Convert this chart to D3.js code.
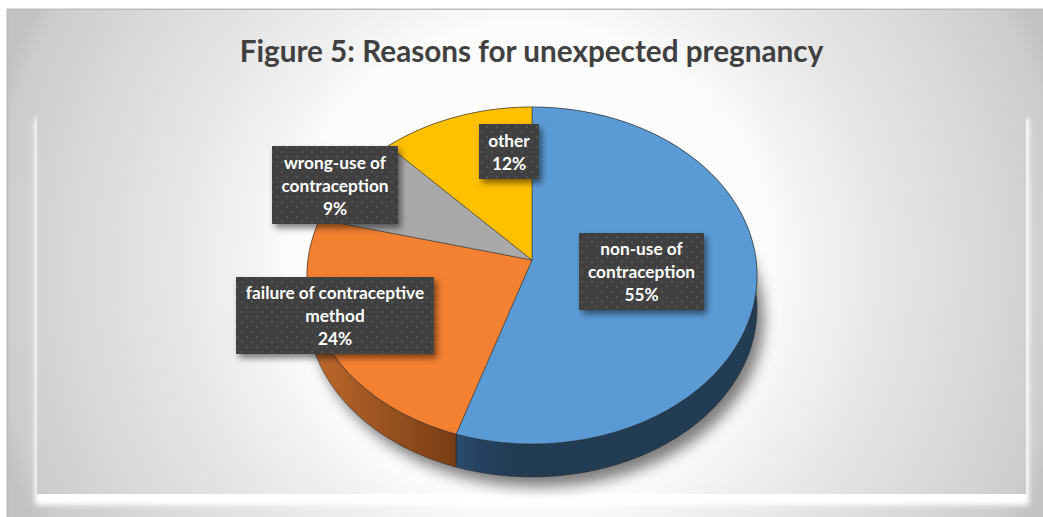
<!DOCTYPE html>
<html><head><meta charset="utf-8">
<script src="https://cdn.jsdelivr.net/npm/d3@7/dist/d3.min.js"></script>
<style>html,body{margin:0;padding:0;background:#fff;overflow:hidden}svg{display:block}</style>
</head><body><svg id="c" width="1043" height="517"></svg>
<script>
const titleText = "Figure 5: Reasons for unexpected pregnancy";
const categories = ["non-use of contraception","failure of contraceptive method","wrong-use of contraception","other"];
const values = [55,24,9,12];
const labelLines = [["non-use of","contraception"],["failure of contraceptive","method"],["wrong-use of","contraception"],["other"]];
const colors = ["#5b9bd5","#ed7d31","#a5a5a5","#ffc000"];
const topColors = ["#5b9bd5","#f48031","#a9a9a9","#ffc000"];
// layout: label boxes [x0,y0,x1,y1]
const boxes = [[579,233,704,310],[236,277,434,354],[272,146,398,224],[479,124,539,179]];

const W=1043,H=517,cx=532,cy=260,rxB=224,a=167,k=0.092,depth=33;
const svg=d3.select("#c");
const defs=svg.append("defs");

const bg=defs.append("radialGradient").attr("id","bg").attr("gradientUnits","userSpaceOnUse")
 .attr("cx",530).attr("cy",265).attr("r",560);
[[0,"#ffffff"],[.43,"#fbfbfb"],[.53,"#f0f0f0"],[.66,"#e4e4e4"],[.77,"#dcdcdc"],[.955,"#cdcdcd"],[1,"#c2c2c2"]].forEach(s=>bg.append("stop").attr("offset",s[0]).attr("stop-color",s[1]));

const f1=defs.append("filter").attr("id","glow").attr("x","-5%").attr("y","-5%").attr("width","110%").attr("height","110%");
f1.append("feGaussianBlur").attr("stdDeviation",2.6);
const f2=defs.append("filter").attr("id","pieShadow").attr("x","-20%").attr("y","-20%").attr("width","140%").attr("height","140%");
f2.append("feGaussianBlur").attr("stdDeviation",7);
const f3=defs.append("filter").attr("id","boxShadow").attr("x","-20%").attr("y","-20%").attr("width","150%").attr("height","150%");
f3.append("feDropShadow").attr("dx",3).attr("dy",4).attr("stdDeviation",3).attr("flood-color","#000").attr("flood-opacity",.5);

const pat=defs.append("pattern").attr("id","dots").attr("patternUnits","userSpaceOnUse").attr("width",10).attr("height",10);
pat.append("rect").attr("width",10).attr("height",10).attr("fill","#404040");
[[2,2],[7,7]].forEach(p=>pat.append("circle").attr("cx",p[0]).attr("cy",p[1]).attr("r",1).attr("fill","#585858"));

const gBlue=defs.append("linearGradient").attr("id","wall0").attr("gradientUnits","userSpaceOnUse").attr("x1",457).attr("x2",760).attr("y1",0).attr("y2",0);
[[0,"#2b4c6e"],[.08,"#254160"],[.2,"#223c54"],[1,"#223c54"]].forEach(s=>gBlue.append("stop").attr("offset",s[0]).attr("stop-color",s[1]));
const gOr=defs.append("linearGradient").attr("id","wall1").attr("gradientUnits","userSpaceOnUse").attr("x1",307).attr("x2",458).attr("y1",0).attr("y2",0);
[[0,"#c26a2c"],[.35,"#a55a24"],[1,"#773c14"]].forEach(s=>gOr.append("stop").attr("offset",s[0]).attr("stop-color",s[1]));

// background
svg.append("rect").attr("x",7.5).attr("y",9).attr("width",W-7.5).attr("height",H-9).attr("fill","url(#bg)");
svg.append("path").attr("d",`M7.5,${H}V9.5H${W}`).attr("fill","none").attr("stroke","#bdbdbd").attr("stroke-width",2);
svg.append("rect").attr("x",35).attr("y",118).attr("width",994).attr("height",387).attr("rx",3).attr("fill","#fff").attr("filter","url(#glow)");
svg.append("rect").attr("x",37).attr("y",10).attr("width",989).attr("height",484).attr("fill","url(#bg)");

svg.append("text").attr("x",531.5).attr("y",62).attr("text-anchor","middle")
 .attr("font-family","Lato, 'Open Sans', sans-serif").attr("font-weight",700).attr("font-size",29.7)
 .attr("fill","#404040").text(titleText);

// projective mapping of the tilted disc
const project=(t,dz=0)=>{const u=Math.sin(t),v=-Math.cos(t),w=1-k*v;return [cx+rxB*u/w,cy+a*v/w+dz];};
const arcs=d3.pie().sort(null).value(d=>d)(values);
const arcPts=(d,dz=0)=>{const n=Math.max(8,Math.ceil((d.endAngle-d.startAngle)*60));
 return d3.range(n+1).map(i=>project(d.startAngle+(d.endAngle-d.startAngle)*i/n,dz));};
const line=d3.line();

// shadow
const full={startAngle:0,endAngle:2*Math.PI};
svg.append("path").attr("d",line(arcPts(full,depth+10))+"Z").attr("fill","#000").attr("fill-opacity",.5).attr("filter","url(#pieShadow)").attr("transform","translate(7,0)");

// walls
svg.append("g").selectAll("path").data(arcs).join("path")
 .attr("d",d=>line(arcPts(d).concat(arcPts(d,depth).reverse()))+"Z")
 .attr("fill",(d,i)=>i<2?`url(#wall${i})`:d3.color(colors[i]).darker(1.5))
 .attr("stroke","#1c1c1c").attr("stroke-width",.6).attr("stroke-opacity",.8);

// top faces
svg.append("g").selectAll("path").data(arcs).join("path")
 .attr("d",d=>line([[cx,cy]].concat(arcPts(d)))+"Z")
 .attr("fill",(d,i)=>topColors[i])
 .attr("stroke","#2a2a2a").attr("stroke-width",.7).attr("stroke-opacity",.7).attr("stroke-linejoin","round");

// labels
const lg=svg.append("g").selectAll("g").data(arcs).join("g");
lg.append("rect").attr("x",(d,i)=>boxes[i][0]).attr("y",(d,i)=>boxes[i][1])
 .attr("width",(d,i)=>boxes[i][2]-boxes[i][0]).attr("height",(d,i)=>boxes[i][3]-boxes[i][1])
 .attr("fill","url(#dots)").attr("filter","url(#boxShadow)");
lg.each(function(d,i){
 const lines=labelLines[i].concat([d3.format(".0%")(d.value/100)]);
 const mx=(boxes[i][0]+boxes[i][2])/2,my=(boxes[i][1]+boxes[i][3])/2,lh=23;
 d3.select(this).selectAll("text").data(lines).join("text")
  .attr("x",mx).attr("y",(l,j)=>my+(j-(lines.length-1)/2)*lh+6.5)
  .attr("text-anchor","middle").attr("font-family","Lato, 'Open Sans', sans-serif")
  .attr("font-weight",700).attr("font-size",17.3).attr("fill","#fff").text(l=>l);
});
</script></body></html>
